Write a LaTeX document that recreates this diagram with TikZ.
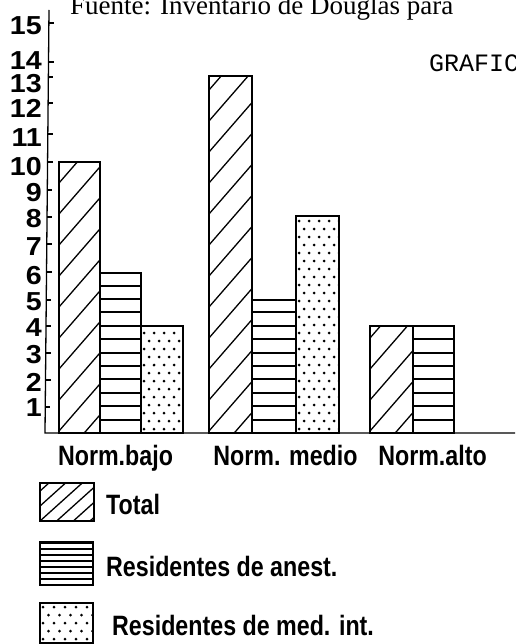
\documentclass[tikz,border=0pt]{standalone}
\usepackage{fontspec}
\setmainfont{Liberation Serif}
\newfontfamily\numfont[FakeStretch=1.1]{Liberation Sans}
\newfontfamily\condfont[FakeStretch=0.83]{Liberation Sans}
\newfontfamily\typefont{Liberation Mono}
\newcommand\hatchrect[6]{%
  \begin{scope}
    \clip (#1,#2) rectangle (#3,#4);
    \foreach \k in {0,...,25}{\draw[hatchline] (#1,{#4+60-\k*#5}) -- ++(80,{-80*#6});}
  \end{scope}}
\newcommand\striperect[5]{%
  \begin{scope}
    \clip (#1,#2) rectangle (#3,#4);
    \foreach \k in {1,...,40}{\draw[stripeline] (#1,{round(#4-\k*#5)}) -- (#3,{round(#4-\k*#5)});}
  \end{scope}}
\newcommand\dotrect[6]{%
  \begin{scope}
    \clip (#1,#2) rectangle (#3,#4);
    \foreach \r in {0,...,45}{\foreach \c in {0,...,6}{%
      \fill ({#1+3+\c*#5+0.5*#5*mod(\r,2)},{#4-4-\r*#6}) circle (1.5pt);}}
  \end{scope}}
\tikzset{
  barline/.style={line width=1.5pt},
  hatchline/.style={line width=1.3pt},
  stripeline/.style={line width=1.3pt},
  axisline/.style={line width=1.3pt},
  tickline/.style={line width=1.1pt},
  axnum/.style={anchor=east, inner sep=0pt, font=\numfont\bfseries\fontsize{26}{26}\selectfont},
  catlab/.style={anchor=base, inner sep=0pt, font=\condfont\bfseries\fontsize{28}{28}\selectfont},
  leglab/.style={anchor=base west, inner sep=0pt, font=\condfont\bfseries\fontsize{28}{28}\selectfont},
}
\begin{document}
\begin{tikzpicture}[x=1pt,y=-1pt]
\useasboundingbox (0,0) rectangle (515,644);
\clip (0,0) rectangle (515,644);
% title and corner text
\node (title) [anchor=base west, inner sep=0pt, font=\fontsize{27}{27}\selectfont] at (70,15) {Fuente: Inventario de Douglas para};
\node (graf) [anchor=west, inner sep=0pt, font=\typefont\fontsize{25}{25}\selectfont] at (429,63) {GRAFICO};
% axes
\coordinate (ytop) at (49,10);
\coordinate (orig) at (45,433);
\coordinate (xend) at (515,433);
\draw[axisline] (ytop) -- (orig) -- (xend);
% ticks and labels
\foreach \v/\ty/\ly in {15/23/26,14/62/61,13/77/84,12/103/108,11/134/138,10/162/167,9/190/193,8/217/219,7/244/247,6/272/276,5/300/302,4/326/328,3/353/355,2/380/382,1/407/408}{
  \draw[tickline] ({45+4*(433-\ty)/423},\ty) -- ++(5,0);
  \node (n\v) [axnum] at (42,\ly) {\v};
}
% group 1
\hatchrect{59}{162}{100}{433}{31}{1.15}
\draw[barline] (59,433) rectangle (100,162);
\striperect{100}{273}{141}{433}{13.4}
\draw[barline] (100,433) rectangle (141,273);
\dotrect{141}{326}{183}{433}{10}{8}
\draw[barline] (141,433) rectangle (183,326);
% group 2
\hatchrect{209}{76}{252}{433}{31}{1.15}
\draw[barline] (209,433) rectangle (252,76);
\striperect{252}{300}{296}{433}{13.4}
\draw[barline] (252,433) rectangle (296,300);
\dotrect{296}{216}{339}{433}{10}{8}
\draw[barline] (296,433) rectangle (339,216);
% group 3
\hatchrect{370}{326}{413}{433}{31}{1.15}
\draw[barline] (370,433) rectangle (413,326);
\striperect{413}{326}{454}{433}{13.4}
\draw[barline] (413,433) rectangle (454,326);
% category labels
\node (c1) [catlab] at (115.5,465) {Norm.bajo};
\node (c2) [catlab] at (285.5,465) {Norm. medio};
\node (c3) [catlab] at (432.5,465) {Norm.alto};
% legend
\hatchrect{40}{483}{94}{521}{15}{0.9}
\draw[barline] (40,483) rectangle (94,521);
\node (l1) [leglab] at (106,514) {Total};
\striperect{40}{542}{93}{585}{6}
\draw[barline] (40,542) rectangle (93,585);
\node (l2) [leglab] at (106,576) {Residentes de anest.};
\dotrect{40}{603}{93}{643}{11}{8}
\draw[barline] (40,603) rectangle (93,643);
\node (l3) [leglab] at (112,635) {Residentes de med. int.};
\end{tikzpicture}
\end{document}
